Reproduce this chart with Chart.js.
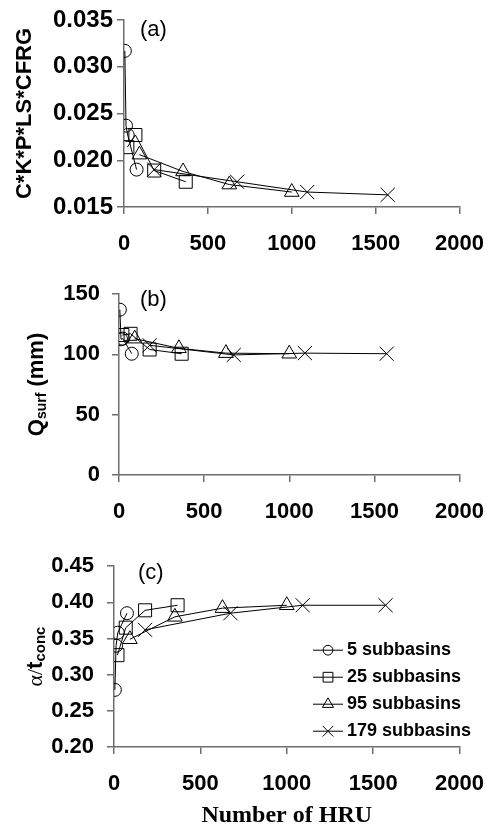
<!DOCTYPE html>
<html>
<head>
<meta charset="utf-8">
<script src="https://cdn.jsdelivr.net/npm/chart.js@4.4.1/dist/chart.umd.min.js"></script>
<style>
  html, body { margin: 0; padding: 0; background: #fff; }
  #wrap { position: relative; width: 501px; height: 831px; }
  canvas { position: absolute; left: 0; }
</style>
</head>
<body>
<div id="wrap">
  <canvas id="chartA" width="501" height="262" style="top:0px"></canvas>
  <canvas id="chartB" width="501" height="278" style="top:262px"></canvas>
  <canvas id="chartC" width="501" height="291" style="top:540px"></canvas>
</div>
<script>
// series names and number of HRU per configuration
const seriesLabels = ["5 subbasins", "25 subbasins", "95 subbasins", "179 subbasins"];
const hru5 = [5, 12, 22, 75];
const hru25 = [20, 68, 180, 368];
const hru95 = [92, 352, 628, 1000];
const hru179 = [180, 674, 1092, 1572];

// (a) C*K*P*LS*CFRG
const usle5 = [0.0317, 0.0237, 0.0227, 0.0190];
const usle25 = [0.0214, 0.0227, 0.0189, 0.0177];
const usle95 = [0.0206, 0.0188, 0.0174, 0.0166];
const usle179 = [0.0190, 0.0177, 0.0166, 0.0163];

// (b) Qsurf (mm)
const qsurf5 = [137, 112.5, 113, 100.5];
const qsurf25 = [116, 117, 104, 100.5];
const qsurf95 = [113, 105, 101, 100.5];
const qsurf179 = [107.5, 99.5, 101, 100.5];

// (c) alpha / tconc
const alpha5 = [0.279, 0.340, 0.358, 0.385];
const alpha25 = [0.327, 0.365, 0.389, 0.396];
const alpha95 = [0.349, 0.380, 0.392, 0.396];
const alpha179 = [0.362, 0.385, 0.396, 0.396];

const xTicks = [0, 500, 1000, 1500, 2000];

const hruSets = [hru5, hru25, hru95, hru179];
const markers = [
  { style: "circle", radius: 6.5 },
  { style: "rect", radius: 9.2 },
  { style: "triangle", radius: 8.5 },
  { style: "crossRot", radius: 10 },
];

const axisGray = "#6e6e6e";
const tickFont = { family: "'Liberation Sans', Arial, sans-serif", size: 22, weight: "bold" };

function makeDatasets(valueSets) {
  return valueSets.map((vals, i) => ({
    label: seriesLabels[i],
    data: vals.map((v, j) => ({ x: hruSets[i][j], y: v })),
    borderColor: "#000",
    borderWidth: 1,
    backgroundColor: "rgba(0,0,0,0)",
    pointStyle: markers[i].style,
    pointRadius: markers[i].radius,
    pointBorderColor: "#000",
    pointBorderWidth: 1,
    pointBackgroundColor: "rgba(0,0,0,0)",
    tension: 0,
    showLine: true,
  }));
}

// panel letter, subscripted y titles and the inner legend
const decor = {
  id: "decor",
  afterDraw(chart, args, opts) {
    const { ctx, chartArea } = chart;
    ctx.save();
    ctx.fillStyle = "#000";
    ctx.textBaseline = "middle";
    if (opts.letter) {
      ctx.font = "22px 'Liberation Sans', Arial, sans-serif";
      ctx.textAlign = "left";
      ctx.fillText(opts.letter, chartArea.left + opts.letterDx, chartArea.top + opts.letterDy);
    }
    if (opts.yTitle) {
      const cy = (chartArea.top + chartArea.bottom) / 2;
      ctx.save();
      ctx.translate(opts.yTitleX, cy);
      ctx.rotate(-Math.PI / 2);
      ctx.textAlign = "left";
      let total = 0;
      opts.yTitle.forEach(seg => {
        ctx.font = seg.font;
        total += ctx.measureText(seg.text).width;
      });
      let x = -total / 2;
      opts.yTitle.forEach(seg => {
        ctx.font = seg.font;
        ctx.fillText(seg.text, x, seg.dy || 0);
        x += ctx.measureText(seg.text).width;
      });
      ctx.restore();
    }
    if (opts.legend) {
      const x0 = chartArea.left + opts.legend.dx;
      const y0 = chartArea.top + opts.legend.dy;
      chart.data.datasets.forEach((ds, i) => {
        const y = y0 + i * opts.legend.step;
        ctx.strokeStyle = "#000";
        ctx.lineWidth = 1;
        ctx.beginPath();
        ctx.moveTo(x0, y);
        ctx.lineTo(x0 + 30, y);
        ctx.stroke();
        ctx.fillStyle = "rgba(0,0,0,0)";
        Chart.helpers.drawPoint(ctx, {
          pointStyle: ds.pointStyle,
          radius: ds.pointRadius * 0.75,
          rotation: 0,
          borderWidth: 1,
        }, x0 + 15, y);
        ctx.fillStyle = "#000";
        ctx.font = "bold 18px 'Liberation Sans', Arial, sans-serif";
        ctx.textAlign = "left";
        ctx.fillText(ds.label, x0 + 34, y);
      });
    }
    ctx.restore();
  },
};

function makeChart(id, cfg) {
  return new Chart(document.getElementById(id), {
    type: "scatter",
    data: { datasets: makeDatasets(cfg.values) },
    options: {
      responsive: false,
      animation: false,
      layout: { padding: { top: cfg.top, right: cfg.right, left: 0, bottom: 0 } },
      plugins: {
        legend: { display: false },
        tooltip: { enabled: false },
        decor: cfg.decor,
      },
      scales: {
        x: {
          type: "linear",
          min: 0,
          max: 2000,
          afterBuildTicks: (scale) => { scale.ticks = xTicks.map(v => ({ value: v })); },
          afterFit: (scale) => { scale.height = cfg.xHeight; },
          border: { color: axisGray, width: 1.5 },
          grid: { drawOnChartArea: false, color: axisGray, lineWidth: 1.5, tickLength: 7 },
          ticks: {
            color: "#000",
            font: tickFont,
            padding: 17,
            maxRotation: 0,
            callback: (v) => String(v),
          },
          title: cfg.xTitle || { display: false },
        },
        y: {
          min: cfg.yMin,
          max: cfg.yMax,
          afterBuildTicks: (scale) => { scale.ticks = cfg.yTicks.map(v => ({ value: v })); },
          afterFit: (scale) => { scale.width = cfg.yWidth; },
          border: { color: axisGray, width: 1.5 },
          grid: { drawOnChartArea: false, color: axisGray, lineWidth: 1.5, tickLength: 7 },
          ticks: {
            color: "#000",
            font: cfg.yFont || tickFont,
            padding: cfg.yPad,
            callback: (v) => v.toFixed(cfg.decimals),
          },
          title: cfg.yTitle || { display: false },
        },
      },
    },
    plugins: [decor],
  });
}

makeChart("chartA", {
  values: [usle5, usle25, usle95, usle179],
  top: 20, right: 32.7, xHeight: 262 - 207, yWidth: 124, yPad: 4,
  yMin: 0.015, yMax: 0.035, yTicks: [0.015, 0.020, 0.025, 0.030, 0.035], decimals: 3,
  yFont: { family: "'Liberation Sans', Arial, sans-serif", size: 24, weight: "bold" },
  yTitle: {
    display: true, text: "C*K*P*LS*CFRG", color: "#000",
    font: { family: "'Liberation Sans', Arial, sans-serif", size: 22, weight: "bold" },
    padding: { top: 12, bottom: 0 },
  },
  decor: { letter: "(a)", letterDx: 16, letterDy: 10 },
});

makeChart("chartB", {
  values: [qsurf5, qsurf25, qsurf95, qsurf179],
  top: 32, right: 38.3, xHeight: 278 - 213, yWidth: 119, yPad: 12,
  yMin: 0, yMax: 150, yTicks: [0, 50, 100, 150], decimals: 0,
  decor: {
    letter: "(b)", letterDx: 21, letterDy: 6,
    yTitleX: 37,
    yTitle: [
      { text: "Q", font: "bold 22px 'Liberation Sans', Arial, sans-serif" },
      { text: "surf", font: "bold 14px 'Liberation Sans', Arial, sans-serif", dy: 5 },
      { text: " (mm)", font: "bold 22px 'Liberation Sans', Arial, sans-serif" },
    ],
  },
});

makeChart("chartC", {
  values: [alpha5, alpha25, alpha95, alpha179],
  top: 22, right: 28, xHeight: 291 - 207, yWidth: 114, yPad: 13,
  yMin: 0.2, yMax: 0.45, yTicks: [0.20, 0.25, 0.30, 0.35, 0.40, 0.45], decimals: 2,
  xTitle: {
    display: true, text: "Number of HRU", color: "#000",
    font: { family: "'Liberation Serif', 'Times New Roman', serif", size: 24, weight: "bold" },
    padding: { top: 0, bottom: 1 },
  },
  decor: {
    letter: "(c)", letterDx: 24, letterDy: 7,
    yTitleX: 36,
    yTitle: [
      { text: "\u03b1/", font: "22px 'Liberation Serif', serif" },
      { text: "t", font: "bold 22px 'Liberation Sans', Arial, sans-serif" },
      { text: "conc", font: "bold 15px 'Liberation Sans', Arial, sans-serif", dy: 5 },
    ],
    legend: { dx: 199, dy: 84, step: 27 },
  },
});
</script>
</body>
</html>
